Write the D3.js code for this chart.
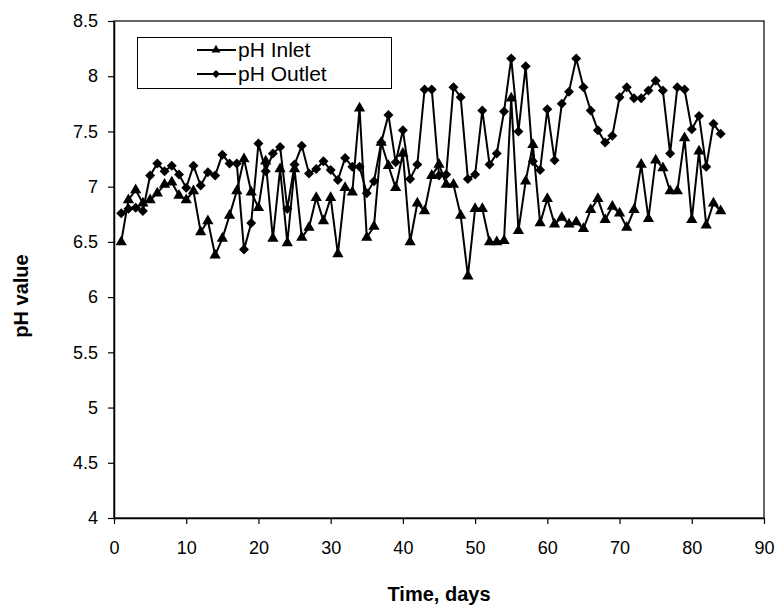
<!DOCTYPE html>
<html>
<head>
<meta charset="utf-8">
<script src="https://cdn.jsdelivr.net/npm/d3@7"></script>
<style>
  html, body { margin: 0; padding: 0; background: #fff; }
  svg { display: block; font-family: "Liberation Sans", Arial, sans-serif; }
</style>
</head>
<body>
<svg id="chart" width="779" height="608"></svg>
<script>
// Daily pH readings, days 1..84
const days = d3.range(1, 85);
const phInlet = [
  6.50, 6.88, 6.97, 6.85, 6.88, 6.94, 7.02, 7.04, 6.92, 6.88,
  6.96, 6.59, 6.69, 6.38, 6.53, 6.74, 6.96, 7.25, 6.95, 6.81,
  7.23, 6.53, 7.16, 6.49, 7.16, 6.54, 6.63, 6.90, 6.69, 6.90,
  6.39, 6.99, 6.95, 7.71, 6.54, 6.64, 7.40, 7.19, 6.99, 7.30,
  6.50, 6.85, 6.78, 7.10, 7.20, 7.02, 7.02, 6.74, 6.19, 6.80,
  6.80, 6.50, 6.50, 6.51, 7.80, 6.60, 7.05, 7.38, 6.67, 6.89,
  6.66, 6.72, 6.66, 6.68, 6.62, 6.79, 6.89, 6.70, 6.82, 6.76,
  6.63, 6.79, 7.20, 6.71, 7.24, 7.17, 6.96, 6.96, 7.44, 6.70,
  7.32, 6.65, 6.85, 6.78
];
const phOutlet = [
  6.76, 6.80, 6.81, 6.78, 7.10, 7.21, 7.14, 7.19, 7.11, 6.99,
  7.19, 7.01, 7.13, 7.10, 7.29, 7.21, 7.21, 6.43, 6.67, 7.39,
  7.14, 7.30, 7.36, 6.80, 7.20, 7.37, 7.12, 7.16, 7.23, 7.15,
  7.06, 7.26, 7.18, 7.18, 6.94, 7.05, 7.40, 7.65, 7.22, 7.51,
  7.07, 7.20, 7.88, 7.88, 7.10, 7.11, 7.90, 7.81, 7.07, 7.11,
  7.69, 7.20, 7.30, 7.68, 8.16, 7.50, 8.09, 7.23, 7.15, 7.70,
  7.24, 7.75, 7.86, 8.16, 7.90, 7.69, 7.51, 7.40, 7.46, 7.81,
  7.90, 7.80, 7.80, 7.87, 7.96, 7.87, 7.30, 7.90, 7.88, 7.52,
  7.64, 7.18, 7.57, 7.48
];
const xTicks = [0, 10, 20, 30, 40, 50, 60, 70, 80, 90];
const yTicks = [4, 4.5, 5, 5.5, 6, 6.5, 7, 7.5, 8, 8.5];
const seriesNames = ["pH Inlet", "pH Outlet"];

const svg = d3.select("#chart");
const plot = { left: 114, right: 764, top: 21, bottom: 518 };

const x = d3.scaleLinear().domain([0, 90]).range([plot.left, plot.right]);
const y = d3.scaleLinear().domain([4, 8.5]).range([plot.bottom, plot.top]);

// frame (top and right edges)
svg.append("rect")
  .attr("x", plot.left).attr("y", plot.top)
  .attr("width", plot.right - plot.left).attr("height", plot.bottom - plot.top)
  .attr("fill", "none").attr("stroke", "#333").attr("stroke-width", 1.5);

// axes
const xAxis = svg.append("g")
  .attr("transform", `translate(0,${plot.bottom})`)
  .call(d3.axisBottom(x).tickValues(xTicks).tickFormat(d3.format("d")).tickSizeInner(6).tickSizeOuter(0).tickPadding(17));
const yAxis = svg.append("g")
  .attr("transform", `translate(${plot.left},0)`)
  .call(d3.axisLeft(y).tickValues(yTicks).tickFormat(d => String(d)).tickSizeInner(6).tickSizeOuter(0).tickPadding(10));

[xAxis, yAxis].forEach(g => {
  g.select(".domain").attr("stroke", "#000").attr("stroke-width", 1.5);
  g.selectAll(".tick line").attr("stroke", "#000").attr("stroke-width", 1.2);
  g.selectAll(".tick text").attr("fill", "#000").style("font-size", "18px")
    .style("font-family", "'Liberation Sans', Arial, sans-serif");
});

// axis titles
svg.append("text")
  .attr("x", (plot.left + plot.right) / 2).attr("y", 601)
  .attr("text-anchor", "middle")
  .style("font-size", "20px").style("font-weight", "bold")
  .text("Time, days");
svg.append("text")
  .attr("transform", "translate(28,296) rotate(-90)")
  .attr("text-anchor", "middle")
  .style("font-size", "20px").style("font-weight", "bold")
  .text("pH value");

const line = d3.line().x((d, i) => x(days[i])).y(d => y(d));
const triangle = d3.symbol().type(d3.symbolTriangle).size(55);
const diamond = d3.symbol().type(d3.symbolSquare).size(50);

function drawSeries(values, symbolPath, rotate) {
  svg.append("path")
    .datum(values)
    .attr("d", line)
    .attr("fill", "none")
    .attr("stroke", "#000")
    .attr("stroke-width", 2);
  svg.append("g").selectAll("path")
    .data(values)
    .join("path")
    .attr("d", symbolPath)
    .attr("transform", (d, i) => `translate(${x(days[i])},${y(d)})${rotate ? " rotate(45)" : ""}`)
    .attr("fill", "#000");
}

drawSeries(phInlet, triangle(), false);
drawSeries(phOutlet, diamond(), true);

// legend
const legend = svg.append("g");
legend.append("rect")
  .attr("x", 137.5).attr("y", 37.5).attr("width", 254).attr("height", 51)
  .attr("fill", "#fff").attr("stroke", "#000").attr("stroke-width", 1);
const legendRows = [
  { name: seriesNames[0], sym: triangle(), rot: false, cy: 50 },
  { name: seriesNames[1], sym: diamond(), rot: true, cy: 74 }
];
legendRows.forEach(r => {
  legend.append("line")
    .attr("x1", 197).attr("x2", 236).attr("y1", r.cy).attr("y2", r.cy)
    .attr("stroke", "#000").attr("stroke-width", 2);
  legend.append("path")
    .attr("d", r.sym)
    .attr("transform", `translate(216,${r.cy})${r.rot ? " rotate(45)" : ""} scale(0.8)`)
    .attr("fill", "#000");
  legend.append("text")
    .attr("x", 238).attr("y", r.cy + 7)
    .style("font-size", "21px")
    .text(r.name);
});
</script>
</body>
</html>
